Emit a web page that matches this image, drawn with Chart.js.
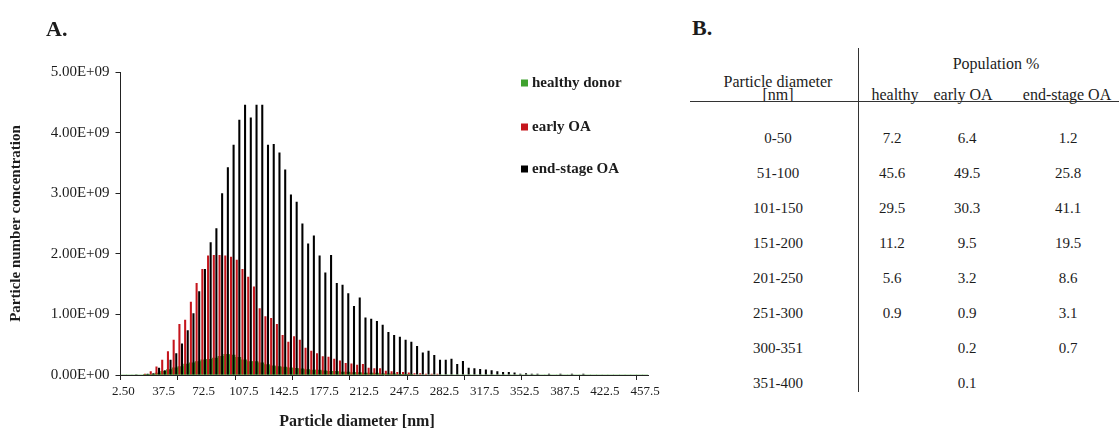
<!DOCTYPE html>
<html>
<head>
<meta charset="utf-8">
<script src="https://cdn.jsdelivr.net/npm/chart.js@4/dist/chart.umd.min.js"></script>
<style>
  html, body { margin: 0; padding: 0; background: #fff; }
  #page { position: relative; width: 1119px; height: 434px; background: #fff; overflow: hidden;
          font-family: "Liberation Serif", "DejaVu Serif", serif; color: #1c1c1c; }
  #chartBox { position: absolute; left: 0; top: 0; width: 680px; height: 434px; }
  .panel { position: absolute; font-weight: bold; font-size: 22px; line-height: 1; }
  .cell { position: absolute; width: 140px; text-align: center; font-size: 15px; line-height: 16px; white-space: nowrap; }
  .head { font-size: 16px; }
  .rule { position: absolute; background: #333; }
</style>
</head>
<body>
<div id="page">
  <div id="chartBox"><canvas id="psd" width="680" height="434"></canvas></div>
  <div class="panel" style="left:46px; top:18px;">A.</div>
  <div class="panel" style="left:692px; top:17px;">B.</div>
  <div id="table"></div>
</div>
<script>
// Size bins (nm, bin midpoints)
const categories = ['2.50','7.5','12.5','17.5','22.5','27.5','32.5','37.5','42.5','47.5',
  '52.5','57.5','62.5','67.5','72.5','77.5','82.5','87.5','92.5','97.5',
  '102.5','107.5','112.5','117.5','122.5','127.5','132.5','137.5','142.5','147.5',
  '152.5','157.5','162.5','167.5','172.5','177.5','182.5','187.5','192.5','197.5',
  '202.5','207.5','212.5','217.5','222.5','227.5','232.5','237.5','242.5','247.5',
  '252.5','257.5','262.5','267.5','272.5','277.5','282.5','287.5','292.5','297.5',
  '302.5','307.5','312.5','317.5','322.5','327.5','332.5','337.5','342.5','347.5',
  '352.5','357.5','362.5','367.5','372.5','377.5','382.5','387.5','392.5','397.5',
  '402.5','407.5','412.5','417.5','422.5','427.5','432.5','437.5','442.5','447.5',
  '452.5','457.5'];

// Particle number concentration per bin, in units of 1E+09
const healthyDonor = [0,0,0,0,0.005,0.01,0.03,0.06,0.09,0.12,
  0.14,0.18,0.20,0.22,0.25,0.26,0.28,0.31,0.34,0.33,
  0.29,0.25,0.22,0.22,0.20,0.17,0.15,0.14,0.13,0.12,
  0.11,0.10,0.09,0.08,0.08,0.07,0.06,0.06,0.05,0.05,
  0.04,0.04,0.03,0.03,0.03,0.02,0.02,0.02,0.01,0.01,
  0.01,0,0,0,0,0,0,0,0,0,
  0,0,0,0,0,0,0,0,0,0,
  0,0,0,0,0,0,0,0,0,0,
  0,0,0,0,0,0,0,0,0,0,
  0,0];

const earlyOA = [0,0,0,0.01,0.02,0.06,0.14,0.25,0.39,0.58,
  0.84,0.91,1.21,1.52,1.75,1.97,1.98,1.98,1.97,1.95,
  1.90,1.75,1.62,1.46,1.10,0.97,0.94,0.84,0.66,0.55,
  0.64,0.58,0.45,0.40,0.36,0.31,0.30,0.27,0.24,0.20,
  0.19,0.17,0.18,0.12,0.11,0.11,0.07,0.06,0.05,0.05,
  0.04,0.03,0.03,0.02,0.02,0.02,0.01,0.01,0.01,0.01,
  0.01,0,0,0,0,0,0,0,0,0,
  0,0,0,0,0,0,0,0,0,0,
  0,0,0,0,0,0,0,0,0,0,
  0,0];

const endStageOA = [0,0,0.005,0.01,0.02,0.03,0.12,0.08,0.25,0.36,
  0.52,0.74,1.02,1.38,1.75,2.19,2.42,3.00,3.43,3.80,
  4.21,4.46,4.25,4.46,4.46,3.80,3.81,3.67,3.39,2.98,
  2.86,2.50,2.17,2.30,1.97,1.69,1.98,1.52,1.49,1.35,
  1.14,1.28,0.95,0.93,0.89,0.83,0.71,0.66,0.63,0.58,
  0.55,0.48,0.37,0.40,0.33,0.25,0.25,0.27,0.18,0.23,
  0.12,0.11,0.10,0.09,0.08,0.06,0.05,0.05,0.04,0.02,
  0.03,0.02,0.02,0.01,0.02,0.01,0.02,0.01,0.02,0.01,
  0.02,0.01,0.01,0.01,0,0.01,0,0,0,0,
  0,0];

const seriesNames = ['healthy donor', 'early OA', 'end-stage OA'];
const UNIT = 1e9;

// Table B: population % per diameter range
const diameterRanges = ['0-50','51-100','101-150','151-200','201-250','251-300','300-351','351-400'];
const healthyPct  = ['7.2','45.6','29.5','11.2','5.6','0.9','',''];
const earlyPct    = ['6.4','49.5','30.3','9.5','3.2','0.9','0.2','0.1'];
const endStagePct = ['1.2','25.8','41.1','19.5','8.6','3.1','0.7',''];

const SERIF = '"Liberation Serif", "DejaVu Serif", serif';
const INK = '#1c1c1c';

function sciLabel(v) {
  const parts = Number(v).toExponential(2).split('e');
  const exp = parseInt(parts[1], 10);
  const sign = exp < 0 ? '-' : '+';
  const digits = String(Math.abs(exp)).padStart(2, '0');
  return parts[0] + 'E' + sign + digits;
}

// Legend drawn inside the plot's upper right corner
const sideLegend = {
  id: 'sideLegend',
  afterDraw(chart, args, opts) {
    const ctx = chart.ctx;
    ctx.save();
    ctx.font = 'bold ' + opts.fontSize + 'px ' + SERIF;
    ctx.textBaseline = 'middle';
    ctx.textAlign = 'left';
    chart.data.datasets.forEach((ds, i) => {
      const y = opts.rows[i];
      ctx.fillStyle = ds.backgroundColor;
      ctx.fillRect(opts.x, y - opts.box / 2, opts.box, opts.box);
      ctx.fillStyle = INK;
      ctx.fillText(ds.label, opts.x + opts.box + 4, y);
    });
    ctx.restore();
  }
};

// Horizontal axis caption, placed under the tick labels
const axisCaption = {
  id: 'axisCaption',
  afterDraw(chart, args, opts) {
    const ctx = chart.ctx;
    ctx.save();
    ctx.font = 'bold ' + opts.fontSize + 'px ' + SERIF;
    ctx.fillStyle = INK;
    ctx.textAlign = 'center';
    ctx.textBaseline = 'middle';
    ctx.fillText(opts.text, opts.x, opts.y);
    ctx.restore();
  }
};

const chart = new Chart(document.getElementById('psd'), {
  type: 'bar',
  data: {
    labels: categories,
    datasets: [
      { label: seriesNames[0], data: healthyDonor.map(v => v * UNIT), backgroundColor: '#3fa22f',
        grouped: false, order: 1, barPercentage: 1.0, categoryPercentage: 1.0 },
      { label: seriesNames[1], data: earlyOA.map(v => v * UNIT), backgroundColor: '#c5161d',
        order: 0, barPercentage: 0.8, categoryPercentage: 0.9 },
      { label: seriesNames[2], data: endStageOA.map(v => v * UNIT), backgroundColor: '#000000',
        order: 0, barPercentage: 0.8, categoryPercentage: 0.9 }
    ]
  },
  options: {
    responsive: false,
    animation: false,
    devicePixelRatio: 1,
    layout: { padding: { left: 0, right: 32, top: 72, bottom: 0 } },
    plugins: {
      legend: { display: false },
      tooltip: { enabled: false },
      sideLegend: { x: 521, rows: [83, 127, 169], box: 7, fontSize: 15 },
      axisCaption: { text: 'Particle diameter [nm]', x: 357, y: 422, fontSize: 16 }
    },
    scales: {
      x: {
        grid: {
          offset: true,
          drawOnChartArea: false,
          drawTicks: true,
          tickLength: 5,
          lineWidth: 1,
          color: c => (c.index % 10 === 0 ? '#222' : 'rgba(0,0,0,0)')
        },
        border: { display: true, color: '#222', width: 1 },
        ticks: {
          autoSkip: false,
          maxRotation: 0,
          minRotation: 0,
          padding: 4,
          color: INK,
          font: { family: SERIF, size: 13 },
          callback: function (value, index) {
            return index % 7 === 0 ? this.getLabelForValue(value) : '';
          }
        },
        title: { display: false },
        afterFit: s => { s.height = 59; }
      },
      y: {
        min: 0,
        max: 5 * UNIT,
        grid: { drawOnChartArea: false, drawTicks: true, tickLength: 5, color: '#222' },
        border: { display: true, color: '#222', width: 1 },
        ticks: {
          stepSize: UNIT,
          padding: 6,
          color: INK,
          font: { family: SERIF, size: 15 },
          callback: v => sciLabel(v)
        },
        title: {
          display: true,
          text: 'Particle number concentration',
          color: INK,
          font: { family: SERIF, size: 15, weight: 'bold' },
          padding: { top: 7, bottom: 0 }
        },
        afterFit: s => { s.width = 120.5; }
      }
    }
  },
  plugins: [sideLegend, axisCaption]
});

// Table B
(function buildTable() {
  const host = document.getElementById('table');
  function cell(text, cx, cy, cls) {
    const d = document.createElement('div');
    d.className = 'cell' + (cls ? ' ' + cls : '');
    d.textContent = text;
    d.style.left = (cx - 70) + 'px';
    d.style.top = (cy - 8) + 'px';
    host.appendChild(d);
  }
  function rule(x, y, w, h) {
    const d = document.createElement('div');
    d.className = 'rule';
    Object.assign(d.style, { left: x + 'px', top: y + 'px', width: w + 'px', height: h + 'px' });
    host.appendChild(d);
  }
  const colX = { range: 778, healthy: 895, early: 963, end: 1067 };
  cell('Particle diameter', colX.range, 82, 'head');
  cell('[nm]', colX.range, 95, 'head');
  cell('Population %', 996, 64, 'head');
  cell('healthy', colX.healthy, 95, 'head');
  cell('early OA', colX.early, 95, 'head');
  cell('end-stage OA', colX.end, 95, 'head');
  rule(690, 101, 429, 1);
  rule(858, 48, 1, 344);
  const rowY0 = 138, rowStep = 35;
  diameterRanges.forEach((r, i) => {
    const y = rowY0 + i * rowStep;
    cell(r, colX.range, y);
    cell(healthyPct[i], colX.healthy - 3, y);
    cell(earlyPct[i], colX.early + 4, y);
    cell(endStagePct[i], colX.end + 1, y);
  });
})();
</script>
</body>
</html>
